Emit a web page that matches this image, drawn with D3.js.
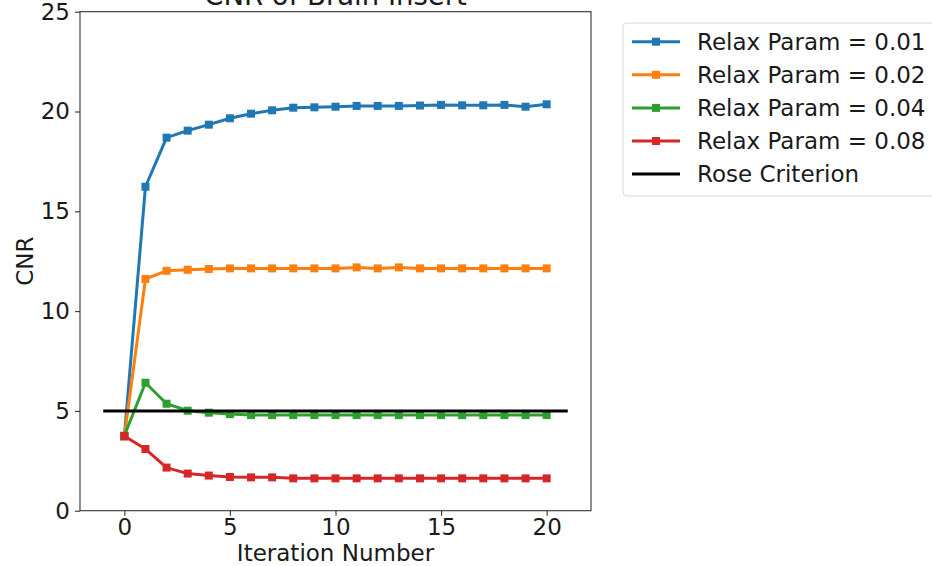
<!DOCTYPE html>
<meta charset='utf-8'>
<style>
    body { margin: 0; background: #fff; }
    text { font-family: "DejaVu Sans", sans-serif; fill: #1a1a1a; }
    .axis path, .axis line { stroke: #333; stroke-width: 1.1; }
    .axis text { font-size: 23px; font-family: "DejaVu Sans", sans-serif; fill: #1a1a1a; }
</style>

<svg width="932" height="566"></svg>
<script src="https://d3js.org/d3.v7.min.js"></script>

<script>

// iterations 0..20
var iterations = d3.range(0, 21);

var relax01 = [3.72, 16.23, 18.69, 19.04, 19.34, 19.66, 19.89, 20.06, 20.19, 20.21, 20.24,
               20.28, 20.28, 20.28, 20.30, 20.33, 20.31, 20.31, 20.33, 20.24, 20.36];
var relax02 = [3.72, 11.61, 12.02, 12.07, 12.11, 12.14, 12.14, 12.14, 12.14, 12.14, 12.14,
               12.19, 12.14, 12.19, 12.14, 12.14, 12.14, 12.14, 12.14, 12.14, 12.14];
var relax04 = [3.76, 6.41, 5.36, 5.01, 4.91, 4.84, 4.79, 4.79, 4.79, 4.79, 4.79,
               4.79, 4.79, 4.79, 4.79, 4.79, 4.79, 4.79, 4.79, 4.79, 4.79];
var relax08 = [3.74, 3.09, 2.16, 1.86, 1.76, 1.69, 1.67, 1.67, 1.62, 1.62, 1.62,
               1.62, 1.62, 1.62, 1.62, 1.62, 1.62, 1.62, 1.62, 1.62, 1.62];

var roseX = [-1, 21];
var roseValue = 5;

var seriesNames = ['Relax Param = 0.01', 'Relax Param = 0.02', 'Relax Param = 0.04', 'Relax Param = 0.08'];
var seriesColors = ['#1f77b4', '#ff7f0e', '#2ca02c', '#d62728'];
var roseName = 'Rose Criterion';

var xTicks = [0, 5, 10, 15, 20];
var yTicks = [0, 5, 10, 15, 20, 25];

var svg = d3.select('svg');

var m = { left: 80, right: 591, top: 11.7, bottom: 510.7 };

var x = d3.scaleLinear().domain([-2.1, 22.1]).range([m.left, m.right]);
var y = d3.scaleLinear().domain([0, 25]).range([m.bottom, m.top]);

// title (cut off at the top in the original)
svg.append('text')
    .attr('x', (m.left + m.right) / 2)
    .attr('y', 5)
    .attr('text-anchor', 'middle')
    .style('font-size', '27.5px')
    .text('CNR of Brain Insert');

var line = d3.line()
    .x(function(d) { return x(d[0]); })
    .y(function(d) { return y(d[1]); });

var series = [relax01, relax02, relax04, relax08];

var plot = svg.append('g');

series.forEach(function(vals, i) {
    var pts = iterations.map(function(it, j) { return [it, vals[j]]; });
    plot.append('path')
        .datum(pts)
        .attr('fill', 'none')
        .attr('stroke', seriesColors[i])
        .attr('stroke-width', 3)
        .attr('stroke-linejoin', 'round')
        .attr('d', line);
    plot.selectAll('rect.m' + i)
        .data(pts)
        .enter().append('rect')
        .attr('class', 'm' + i)
        .attr('x', function(d) { return x(d[0]) - 4; })
        .attr('y', function(d) { return y(d[1]) - 4; })
        .attr('width', 8)
        .attr('height', 8)
        .attr('fill', seriesColors[i]);
});

plot.append('path')
    .datum(roseX.map(function(v) { return [v, roseValue]; }))
    .attr('fill', 'none')
    .attr('stroke', '#000')
    .attr('stroke-width', 3)
    .attr('d', line);

// axes
svg.append('g')
    .attr('class', 'axis')
    .attr('transform', 'translate(0,' + m.bottom + ')')
    .call(d3.axisBottom(x).tickValues(xTicks).tickSize(5).tickPadding(3).tickSizeOuter(0));

svg.append('g')
    .attr('class', 'axis')
    .attr('transform', 'translate(' + m.left + ',0)')
    .call(d3.axisLeft(y).tickValues(yTicks).tickSize(5).tickPadding(5).tickSizeOuter(0));

svg.selectAll('.axis .domain').remove();

svg.append('rect')
    .attr('x', m.left).attr('y', m.top)
    .attr('width', m.right - m.left).attr('height', m.bottom - m.top)
    .attr('fill', 'none')
    .attr('stroke', '#333')
    .attr('stroke-width', 1.1);

// axis labels
svg.append('text')
    .attr('x', (m.left + m.right) / 2)
    .attr('y', 561)
    .attr('text-anchor', 'middle')
    .style('font-size', '23px')
    .text('Iteration Number');

svg.append('text')
    .attr('transform', 'translate(33,' + ((m.top + m.bottom) / 2) + ') rotate(-90)')
    .attr('text-anchor', 'middle')
    .style('font-size', '23px')
    .text('CNR');

// legend
var legend = svg.append('g').attr('transform', 'translate(623,23)');

legend.append('rect')
    .attr('width', 330)
    .attr('height', 173)
    .attr('rx', 4)
    .attr('fill', '#fff')
    .attr('stroke', '#d8d8d8');

var legendItems = seriesNames.map(function(n, i) { return { name: n, color: seriesColors[i], marker: true }; });
legendItems.push({ name: roseName, color: '#000', marker: false });

var rows = legend.selectAll('g.item')
    .data(legendItems)
    .enter().append('g')
    .attr('class', 'item')
    .attr('transform', function(d, i) { return 'translate(0,' + (18.7 + i * 33.1) + ')'; });

rows.append('line')
    .attr('x1', 9).attr('x2', 57)
    .attr('stroke', function(d) { return d.color; })
    .attr('stroke-width', 3);

rows.filter(function(d) { return d.marker; })
    .append('rect')
    .attr('x', 29).attr('y', -4)
    .attr('width', 8).attr('height', 8)
    .attr('fill', function(d) { return d.color; });

rows.append('text')
    .attr('x', 74)
    .attr('y', 8)
    .style('font-size', '23px')
    .text(function(d) { return d.name; });

</script>
